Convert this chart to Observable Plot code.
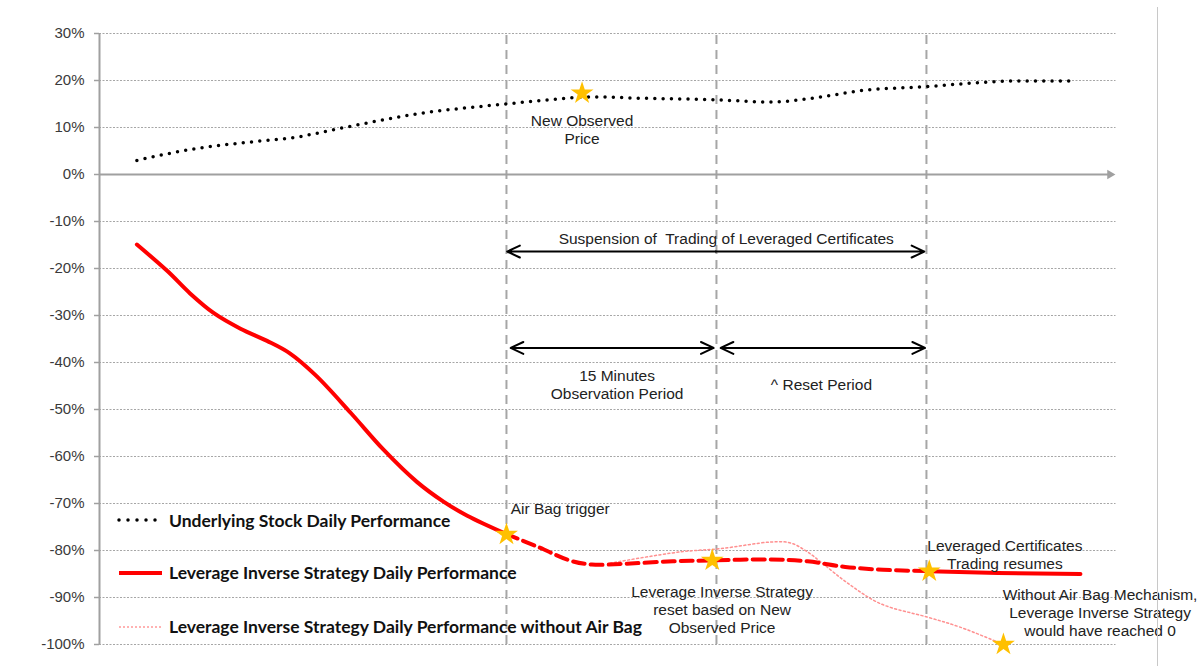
<!DOCTYPE html>
<html><head><meta charset="utf-8">
<script src="https://cdn.jsdelivr.net/npm/d3@7"></script>
<script src="https://cdn.jsdelivr.net/npm/@observablehq/plot@0.6"></script>
<style>
body{margin:0;background:#fff;}
#wrap{position:relative;width:1203px;height:666px;overflow:hidden;}
#border{position:absolute;left:1157px;top:7px;width:1px;height:659px;background:#c8c8c8;}
.leg{position:absolute;left:117px;display:flex;align-items:center;height:22px;font-family:Lato, "Open Sans", sans-serif;font-weight:bold;font-size:17.5px;color:#111;white-space:nowrap;}
.leg svg{margin-right:6px;display:block;}
</style></head><body><div id="wrap"><div id="border"></div></div>
<script>
// time in minutes relative to the Air Bag trigger
const xDomain = [-29.07, 43.54];
const yTicks = d3.range(-100, 31, 10);

const underlying = [[-26.4,3.0],[-22,5.6],[-18.3,6.9],[-14.7,8.1],[-12.4,9.5],[-9.9,11.0],[-6.4,12.9],[-2.8,14.2],[0,15.0],[3,15.9],[6,16.5],[10,16.2],[15,15.9],[18.8,15.4],[22,16.3],[25.5,17.9],[30,18.7],[34,19.6],[36.2,19.9],[40.5,19.9]];
const strategyBefore = [[-26.4,-14.9],[-24.2,-20.6],[-22.6,-25.3],[-20.9,-29.5],[-19.0,-32.8],[-17.1,-35.4],[-15.5,-38.0],[-13.6,-42.8],[-11.1,-50.8],[-8.8,-58.5],[-6.4,-65.4],[-4.5,-69.6],[-2.8,-72.6],[0,-76.5]];
const strategySuspended = [[0,-76.5],[2.3,-79.3],[4.5,-82.1],[6.1,-83.0],[8.6,-82.8],[11.9,-82.3],[14.8,-82.1],[18.7,-81.9],[21.5,-82.3],[24.2,-83.5],[26.9,-84.1],[30.2,-84.4]];
const strategyAfter = [[30.2,-84.4],[35.1,-84.8],[41,-85.0]];
const noAirBag = [[7.4,-82.7],[12.4,-80.3],[15.3,-79.6],[18.9,-78.2],[20.3,-78.4],[21.5,-80.3],[22.6,-82.8],[24.4,-87.0],[26.7,-91.3],[30.1,-94.2],[32.4,-96.3],[35.5,-100]];
const stars = [[0,-76.6],[5.4,17.3],[14.7,-82.1],[30.2,-84.4],[35.5,-100]];
const phaseBounds = [0, 15, 30];
const periods = [
  {from:0.05, to:29.85, y:-16.4},
  {from:0.3, to:14.8, y:-36.9},
  {from:15.3, to:29.9, y:-36.9}
];
const notesCentered = [
  {text:"New Observed\nPrice", t:5.4, v:9.72},
  {text:"Suspension of  Trading of Leveraged Certificates", t:15.7, v:-13.5},
  {text:"15 Minutes\nObservation Period", t:7.9, v:-44.66},
  {text:"^ Reset Period", t:22.5, v:-44.7},
  {text:"Leverage Inverse Strategy\nreset based on New\nObserved Price", t:15.4, v:-92.55},
  {text:"Leveraged Certificates\nTrading resumes", t:35.6, v:-80.7},
  {text:"Without Air Bag Mechanism,\nLeverage Inverse Strategy\nwould have reached 0", t:42.4, v:-93.2}
];
const notesLeft = [{text:"Air Bag trigger", t:0.3, v:-71.1}];
const legendItems = [
  {label:"Underlying Stock Daily Performance", stroke:"#000", width:3.5, dash:"0,9", cap:"round"},
  {label:"Leverage Inverse Strategy Daily Performance", stroke:"#ff0000", width:4, dash:null, cap:"butt"},
  {label:"Leverage Inverse Strategy Daily Performance without Air Bag", stroke:"#ff9999", width:1.5, dash:"2,2", cap:"butt"}
];

const obj = a => a.map(([t, v]) => ({t, v}));
const mid = d => (d.from + d.to) / 2;

const chart = Plot.plot({
  width: 1203, height: 666,
  marginLeft: 99, marginRight: 87.5, marginTop: 33, marginBottom: 22,
  x: {domain: xDomain, axis: null},
  y: {domain: [-100, 30], axis: null},
  style: {fontFamily: "'Liberation Sans', Arial, sans-serif", fontSize: "15px", background: "transparent", overflow: "visible"},
  marks: [
    Plot.ruleY(yTicks.filter(d => d !== 0), {stroke: "#a6a6a6", strokeWidth: 1, strokeDasharray: "2,1.5"}),
    Plot.ruleX(phaseBounds, {y1: -100, y2: 30, stroke: "#a6a6a6", strokeWidth: 2, strokeDasharray: "9,6"}),
    Plot.ruleY([0], {x1: xDomain[0], x2: xDomain[1] - 0.5, stroke: "#a0a0a0", strokeWidth: 2}),
    Plot.dot([0], {x: [xDomain[1]], y: [0], symbol: "triangle", rotate: 90, r: 3.5, fill: "#a0a0a0", dx: -6}),
    Plot.ruleX([xDomain[0]], {y1: -100, y2: 30, stroke: "#a0a0a0", strokeWidth: 2}),
    Plot.axisY(yTicks, {tickSize: 5, tickPadding: 10, tickFormat: d => d + "%", stroke: "#a0a0a0", strokeWidth: 1.5, color: "#3a3a3a", fontSize: 15, label: null}),
    Plot.line(obj(noAirBag), {x: "t", y: "v", curve: "catmull-rom", stroke: "#ff9090", strokeWidth: 1.5, strokeDasharray: "2,2.5"}),
    Plot.line(obj(underlying), {x: "t", y: "v", curve: "monotone-x", stroke: "#000", strokeWidth: 3.5, strokeDasharray: "0,8.3", strokeLinecap: "round"}),
    Plot.line(obj(strategyBefore), {x: "t", y: "v", curve: "catmull-rom", stroke: "#ff0000", strokeWidth: 4}),
    Plot.line(obj(strategySuspended), {x: "t", y: "v", curve: "catmull-rom", stroke: "#ff0000", strokeWidth: 4, strokeDasharray: "12,6"}),
    Plot.line(obj(strategyAfter), {x: "t", y: "v", curve: "monotone-x", stroke: "#ff0000", strokeWidth: 4}),
    Plot.arrow(periods, {x1: mid, x2: "to", y1: "y", y2: "y", stroke: "#000", strokeWidth: 2, headLength: 10.5, headAngle: 50}),
    Plot.arrow(periods, {x1: mid, x2: "from", y1: "y", y2: "y", stroke: "#000", strokeWidth: 2, headLength: 10.5, headAngle: 50}),
    Plot.dot(obj(stars), {x: "t", y: "v", symbol: "star", r: 7.2, fill: "#ffc000", stroke: "none"}),
    Plot.text(notesCentered, {x: "t", y: "v", text: "text", textAnchor: "middle", lineHeight: 1.16, fill: "#222", fontSize: 15.5}),
    Plot.text(notesLeft, {x: "t", y: "v", text: "text", textAnchor: "start", fill: "#222", fontSize: 15.5})
  ]
});
const wrap = document.getElementById("wrap");
wrap.insertBefore(chart, wrap.firstChild);

// legend inside the plot area
const legendTops = [509, 561.7, 615.7];
legendItems.forEach((it, i) => {
  const div = document.createElement("div");
  div.className = "leg";
  div.style.top = legendTops[i] + "px";
  const ns = "http://www.w3.org/2000/svg";
  const s = document.createElementNS(ns, "svg");
  s.setAttribute("width", 46); s.setAttribute("height", 10);
  const l = document.createElementNS(ns, "line");
  l.setAttribute("x1", 2); l.setAttribute("x2", 45); l.setAttribute("y1", 5); l.setAttribute("y2", 5);
  l.setAttribute("stroke", it.stroke); l.setAttribute("stroke-width", it.width);
  l.setAttribute("stroke-linecap", it.cap);
  if (it.dash) l.setAttribute("stroke-dasharray", it.dash);
  s.appendChild(l);
  div.appendChild(s);
  const span = document.createElement("span");
  span.textContent = it.label;
  div.appendChild(span);
  wrap.appendChild(div);
});
</script>
</body></html>
